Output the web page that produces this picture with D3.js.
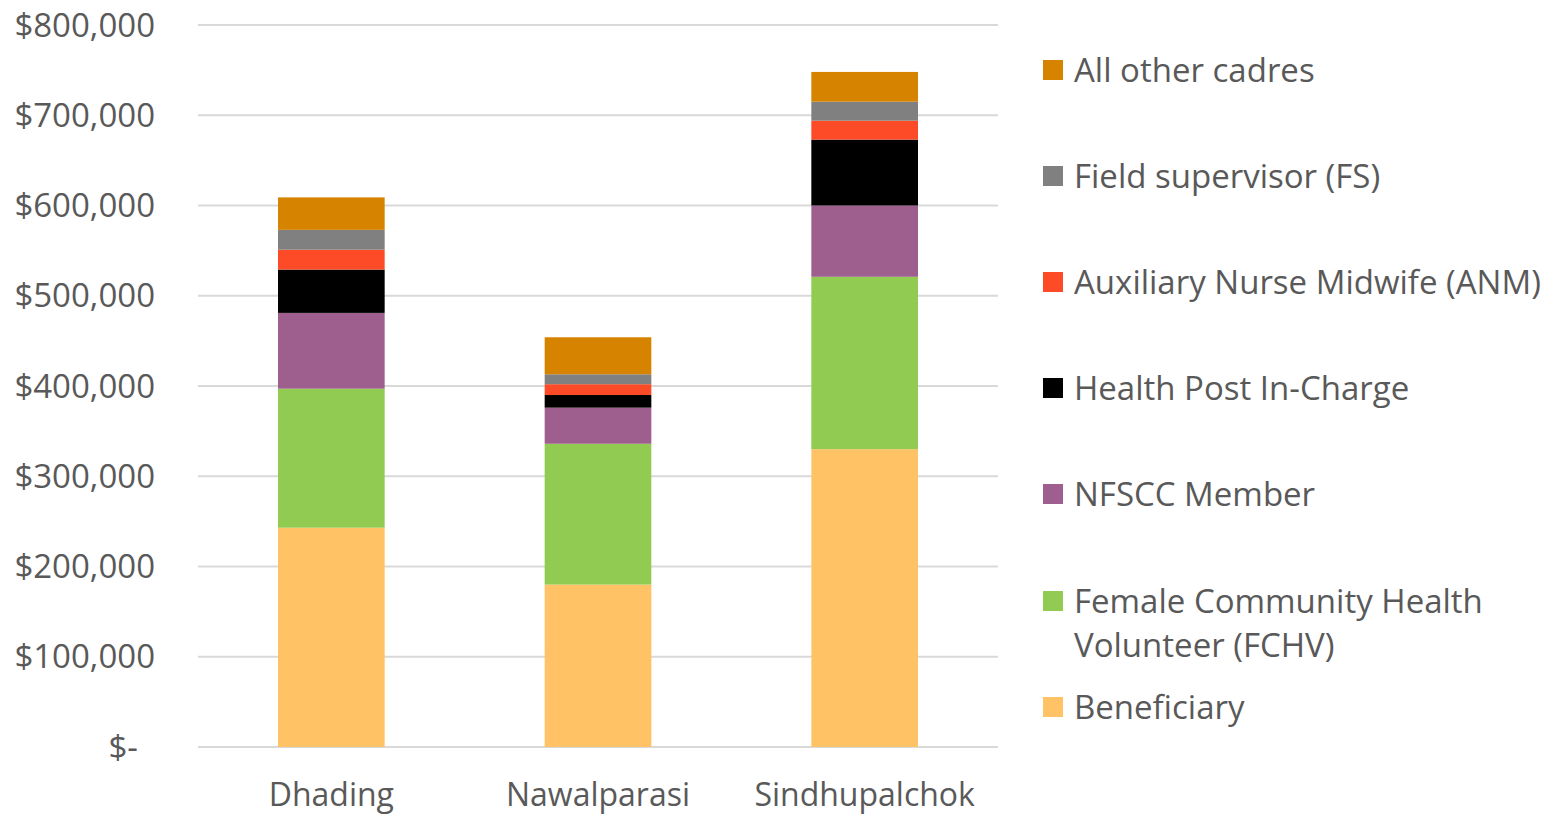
<!DOCTYPE html>
<html>
<head>
<meta charset="utf-8">
<script src="https://cdn.jsdelivr.net/npm/d3@7"></script>
<style>
  body { margin: 0; background: #fff; }
  svg { display: block; font-family: "Open Sans", sans-serif; }
</style>
</head>
<body>
<svg id="chart" width="1557" height="815"></svg>
<script>
// districts on the x axis
const districts = ['Dhading', 'Nawalparasi', 'Sindhupalchok'];

// series, bottom to top, values in USD
const beneficiary = [243000, 180000, 330000];
const fchv        = [154000, 156000, 191000];
const nfscc       = [84000, 40000, 79000];
const hpInCharge  = [48000, 14000, 73000];
const anm         = [22000, 12000, 21000];
const fieldSup    = [22000, 11000, 21000];
const otherCadres = [36000, 41000, 33000];

const seriesNames = [
  'Beneficiary',
  'Female Community Health Volunteer (FCHV)',
  'NFSCC Member',
  'Health Post In-Charge',
  'Auxiliary Nurse Midwife (ANM)',
  'Field supervisor (FS)',
  'All other cadres'
];
const seriesValues = [beneficiary, fchv, nfscc, hpInCharge, anm, fieldSup, otherCadres];
const seriesColors = ['#ffc365', '#92cb52', '#9e5f8f', '#000000', '#fc4b26', '#808080', '#d68400'];

const yTicks = [0, 100000, 200000, 300000, 400000, 500000, 600000, 700000, 800000];

// build rows for d3.stack
const rows = districts.map((d, i) => {
  const row = { district: d };
  seriesNames.forEach((s, j) => { row[s] = seriesValues[j][i]; });
  return row;
});
const stacked = d3.stack().keys(seriesNames)(rows);

const svg = d3.select('#chart');
const margin = { top: 25, left: 198, right: 559, bottom: 68 };
const width = 1557 - margin.left - margin.right;
const height = 815 - margin.top - margin.bottom;

const x = d3.scaleBand().domain(districts).range([0, width]).paddingInner(0.6).paddingOuter(0.3);
const y = d3.scaleLinear().domain([0, 800000]).range([height, 0]);

const g = svg.append('g').attr('transform', `translate(${margin.left},${margin.top})`);

// gridlines
g.selectAll('line.grid')
  .data(yTicks)
  .enter()
  .append('line')
  .attr('x1', 0)
  .attr('x2', width)
  .attr('y1', d => y(d))
  .attr('y2', d => y(d))
  .attr('stroke', '#d9d9d9')
  .attr('stroke-width', 2);

// y axis labels
const fmt = d3.format(',');
g.selectAll('text.ytick')
  .data(yTicks)
  .enter()
  .append('text')
  .attr('x', d => d === 0 ? -60 : -43)
  .attr('y', d => y(d))
  .attr('dy', '0.35em')
  .attr('text-anchor', 'end')
  .attr('fill', '#595959')
  .style('font-size', '33px')
  .text(d => d === 0 ? '$-' : '$' + fmt(d));

// bars
g.selectAll('g.layer')
  .data(stacked)
  .enter()
  .append('g')
  .attr('fill', (d, i) => seriesColors[i])
  .selectAll('rect')
  .data(d => d)
  .enter()
  .append('rect')
  .attr('x', d => x(d.data.district))
  .attr('width', x.bandwidth())
  .attr('y', d => y(d[1]))
  .attr('height', d => y(d[0]) - y(d[1]));

// x axis labels
g.selectAll('text.xtick')
  .data(districts)
  .enter()
  .append('text')
  .attr('x', d => x(d) + x.bandwidth() / 2)
  .attr('y', height + 48)
  .attr('dy', '0.35em')
  .attr('text-anchor', 'middle')
  .attr('fill', '#595959')
  .style('font-size', '32px')
  .text(d => d);

// legend, top entry is the last series
const legendY = [707, 601, 494, 388, 282, 176, 70];
const legend = svg.append('g');
seriesNames.forEach((name, i) => {
  const ly = legendY[i];
  legend.append('rect')
    .attr('x', 1043)
    .attr('y', ly - 10)
    .attr('width', 20)
    .attr('height', 20)
    .attr('fill', seriesColors[i]);
  const t = legend.append('text')
    .attr('x', 1074)
    .attr('y', ly)
    .attr('dy', '0.35em')
    .attr('fill', '#595959')
    .style('font-size', '33px');
  if (name.startsWith('Female')) {
    t.append('tspan').attr('x', 1074).text('Female Community Health');
    t.append('tspan').attr('x', 1074).attr('dy', 44).text('Volunteer (FCHV)');
  } else {
    t.text(name);
  }
});
</script>
</body>
</html>
